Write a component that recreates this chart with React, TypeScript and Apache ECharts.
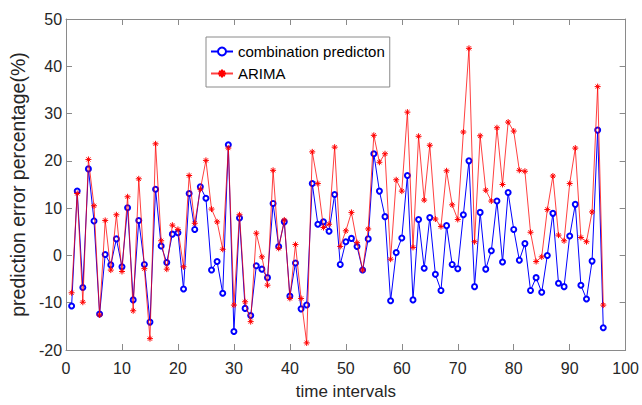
import React, { useEffect, useRef } from "react";
import * as echarts from "echarts";

const combination: number[] = [
  -10.7, 13.6, -6.8, 18.3, 7.3, -12.4, 0.2, -2.0, 3.5, -2.4,
  10.1, -9.4, 7.4, -1.9, -14.1, 14.0, 2.0, -1.5, 4.5, 4.8,
  -7.1, 13.1, 5.5, 14.5, 12.1, -3.1, -1.3, -8.0, 23.4, -16.1,
  7.9, -11.2, -12.7, -2.2, -2.9, -4.7, 11.0, 1.9, 7.1, -8.6,
  -1.6, -11.3, -10.5, 15.2, 6.6, 7.1, 5.1, 12.9, -1.9, 2.9,
  3.6, 1.9, -3.1, 3.5, 21.5, 13.6, 8.2, -9.6, 0.6, 3.7,
  16.9, -9.4, 7.6, -2.7, 8.0, -4.0, -7.4, 6.3, -1.9, -2.8,
  8.6, 20.0, -6.6, 9.1, -2.9, 1.0, 11.5, -1.4, 13.3, 5.5,
  -1.0, 2.5, -7.4, -4.7, -7.8, 0.0, 8.9, -5.9, -6.6, 4.1,
  10.8, -6.3, -9.2, -1.2, 26.5, -15.3,
];

const arima: number[] = [
  -7.9, 13.1, -9.9, 20.3, 10.5, -12.6, 7.4, -3.1, 8.6, -3.4,
  12.4, -11.7, 16.2, -2.8, -17.6, 23.6, 3.1, -2.9, 6.4, 5.5,
  -2.4, 16.9, 6.8, 14.0, 20.1, 9.8, 7.1, 1.3, 22.7, -10.5,
  8.6, -9.8, -14.0, 4.7, -0.3, -6.3, 18.0, 1.5, 7.5, -9.1,
  2.3, -9.1, -18.5, 21.9, 15.2, 5.9, 6.6, 22.9, 1.9, 5.2,
  9.1, 2.7, -3.1, 5.6, 25.4, 19.7, 21.5, -0.8, 16.0, 13.6,
  30.3, 1.7, 25.2, 11.7, 23.3, 7.7, 6.1, 17.9, 10.7, 7.6,
  26.1, 43.8, 2.9, 25.3, 13.8, 11.5, 27.0, 15.0, 28.2, 26.3,
  18.0, 17.8, 4.9, -1.3, -0.3, 9.7, 16.8, 4.3, 3.1, 15.2,
  22.7, 3.8, 2.9, 9.2, 35.7, -10.5,
];

const seriesNames = ["combination predicton", "ARIMA"];
const xTitle = "time intervals";
const yTitle = "prediction error percentage(%)";

const SANS = '"Liberation Sans", Arial, sans-serif';
const BOX = "#8a8a8a";
const TXT = "#262626";

const asterisk =
  "path://M5,0L5,10M0,5L10,5M1.6,1.6L8.4,8.4M1.6,8.4L8.4,1.6";

export default function App() {
  const ref = useRef<HTMLDivElement>(null);
  useEffect(() => {
    if (!ref.current) return;
    const chart = echarts.init(ref.current, undefined, { renderer: "svg" });
    const toPairs = (arr: number[]) => arr.map((v, i) => [i + 1, v]);
    const baseAxis = {
      type: "value" as const,
      axisLine: { show: true, onZero: false, lineStyle: { color: BOX, width: 1 } },
      axisTick: { show: true, inside: true, length: 6, lineStyle: { color: BOX } },
      splitLine: { show: false },
    };
    chart.setOption({
      animation: false,
      backgroundColor: "#fff",
      grid: { left: 53, right: 13, top: 19, bottom: 52, containLabel: false },
      legend: {
        data: seriesNames,
        orient: "vertical",
        left: 206,
        top: 37,
        padding: [6, 5, 5, 4],
        itemGap: 5,
        itemWidth: 22,
        itemHeight: 10,
        backgroundColor: "#fff",
        borderColor: "#8a8a8a",
        borderWidth: 1,
        borderRadius: 0,
        textStyle: { fontFamily: SANS, fontSize: 15, color: "#000", lineHeight: 17 },
      },
      xAxis: [
        {
          ...baseAxis,
          min: 0,
          max: 100,
          interval: 10,
          position: "bottom",
          axisLabel: { color: TXT, fontSize: 16, fontFamily: SANS, margin: 10 },
          name: xTitle,
          nameLocation: "middle",
          nameGap: 33,
          nameTextStyle: { color: TXT, fontSize: 17, fontFamily: SANS },
        },
        {
          ...baseAxis,
          min: 0,
          max: 100,
          interval: 10,
          position: "top",
          axisLabel: { show: false },
        },
      ],
      yAxis: [
        {
          ...baseAxis,
          min: -20,
          max: 50,
          interval: 10,
          position: "left",
          axisLabel: { color: TXT, fontSize: 16, fontFamily: SANS, margin: 4 },
          name: yTitle,
          nameLocation: "middle",
          nameGap: 30,
          nameTextStyle: { color: TXT, fontSize: 19.5, fontFamily: SANS },
        },
        {
          ...baseAxis,
          min: -20,
          max: 50,
          interval: 10,
          position: "right",
          axisLabel: { show: false },
        },
      ],
      series: [
        {
          name: seriesNames[0],
          type: "line",
          data: toPairs(combination),
          symbol: "emptyCircle",
          symbolSize: 5,
          lineStyle: { color: "#0000ff", width: 1 },
          itemStyle: { color: "#0000ff", borderColor: "#0000ff", borderWidth: 1 },
          emphasis: { disabled: true },
          z: 2,
        },
        {
          name: seriesNames[1],
          type: "line",
          data: toPairs(arima),
          symbol: asterisk,
          symbolSize: 6,
          lineStyle: { color: "#ff0000", width: 1, opacity: 0.75 },
          itemStyle: { color: "#ff0000", borderColor: "#ff0000", borderWidth: 1 },
          emphasis: { disabled: true },
          z: 3,
        },
      ],
    });
    return () => chart.dispose();
  }, []);
  return (
    <div
      ref={ref}
      style={{ position: "fixed", left: 0, top: 0, width: 642, height: 405 }}
    />
  );
}
